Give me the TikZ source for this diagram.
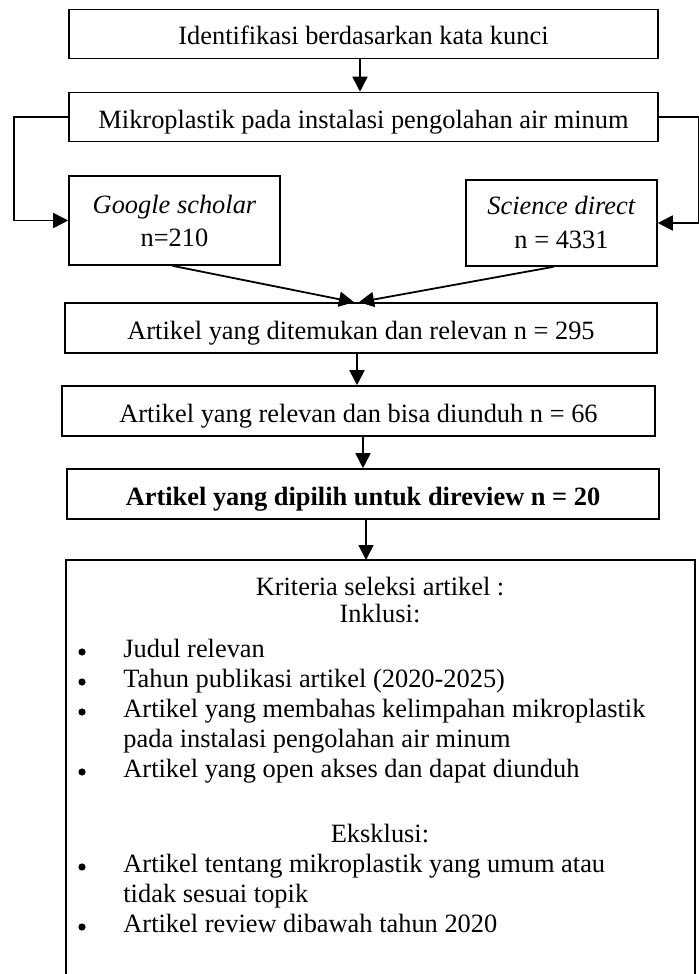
\documentclass[tikz,border=0pt]{standalone}
\usepackage{fontspec}
\setmainfont{Liberation Serif}
\usetikzlibrary{arrows.meta}
\begin{document}
\begin{tikzpicture}[x=0.5pt,y=-0.5pt,
  box/.style={draw, line width=0.8pt, inner sep=0pt, text height=11pt, text depth=0pt, font=\fontsize{13.2}{16}\selectfont},
  arr/.style={line width=0.9pt, -{Triangle[length=7.5pt,width=7.5pt]}},
  txt/.style={inner sep=0pt, font=\fontsize{13.2}{16}\selectfont},
  bul/.style={circle, fill, inner sep=0pt, minimum size=3.6pt}]
\useasboundingbox (0,0) rectangle (699,974);
\node[box, minimum width=294.5pt, minimum height=24.5pt] (b1) at (363.5,34) {Identifikasi berdasarkan kata kunci};
\node[box, minimum width=294.5pt, minimum height=24.5pt] (b2) at (363.5,117) {Mikroplastik pada instalasi pengolahan air minum};
\node[box, minimum width=105.5pt, minimum height=44.5pt] (gs) at (174.5,220.5) {};
\node[txt, anchor=base] (gs1) at (174.5,213) {\textit{Google scholar}};
\node[txt, anchor=base] (gs2) at (174.5,246) {n=210};
\node[box, minimum width=95.5pt, minimum height=43pt] (sd) at (561.5,223) {};
\node[txt, anchor=base] (sd1) at (561.5,214) {\textit{Science direct}};
\node[txt, anchor=base] (sd2) at (561.5,248) {n = 4331};
\node[box, minimum width=296pt, minimum height=25pt] (b3) at (361,328) {Artikel yang ditemukan dan relevan n = 295};
\node[box, minimum width=296.5pt, minimum height=25pt] (b4) at (358.5,411) {Artikel yang relevan dan bisa diunduh n = 66};
\node[box, minimum width=296pt, minimum height=25pt] (b5) at (363,494) {\textbf{Artikel yang dipilih untuk direview n = 20}};
% open-bottom criteria box
\coordinate (c6a) at (66,976);
\coordinate (c6b) at (66,560);
\coordinate (c6c) at (695,560);
\coordinate (c6d) at (695,976);
\coordinate (b6top) at (366,560);
\draw[line width=0.8pt] (c6a) -- (c6b) -- (c6c) -- (c6d);
% connectors
\draw[arr] (360,0 |- b1.south) -- (360,0 |- b2.north);
\draw[arr] (b2.west) -- ++(-54,0) |- (gs.west);
\draw[arr] (b2.east) -- (699,117) |- (sd.east);
\draw[arr] ([xshift=-1pt]gs.south) -- (354,0 |- b3.north);
\draw[arr] ([xshift=-4pt]sd.south) -- (359,0 |- b3.north);
\draw[arr] (357,0 |- b3.south) -- (357,0 |- b4.north);
\draw[arr] (363,0 |- b4.south) -- (363,0 |- b5.north);
\draw[arr] (366,0 |- b5.south) -- (b6top);
% criteria text
\node[txt, anchor=base] (k1) at (380,595) {Kriteria seleksi artikel :};
\node[txt, anchor=base] (k2) at (380,622) {Inklusi:};
\node[bul] (p1) at (82,652) {};
\node[txt, anchor=base west] (t1) at (123,657) {Judul relevan};
\node[bul] (p2) at (82,682) {};
\node[txt, anchor=base west] (t2) at (123,687) {Tahun publikasi artikel (2020-2025)};
\node[bul] (p3) at (82,712) {};
\node[txt, anchor=base west] (t3) at (123,717) {Artikel yang membahas kelimpahan mikroplastik};
\node[txt, anchor=base west] (t3b) at (123,747) {pada instalasi pengolahan air minum};
\node[bul] (p4) at (82,772) {};
\node[txt, anchor=base west] (t4) at (123,777) {Artikel yang open akses dan dapat diunduh};
\node[txt, anchor=base] (k3) at (380,842) {Eksklusi:};
\node[bul] (p5) at (82,867) {};
\node[txt, anchor=base west] (t5) at (123,872) {Artikel tentang mikroplastik yang umum atau};
\node[txt, anchor=base west] (t5b) at (123,902) {tidak sesuai topik};
\node[bul] (p6) at (82,927) {};
\node[txt, anchor=base west] (t6) at (123,932) {Artikel review dibawah tahun 2020};
\end{tikzpicture}
\end{document}
